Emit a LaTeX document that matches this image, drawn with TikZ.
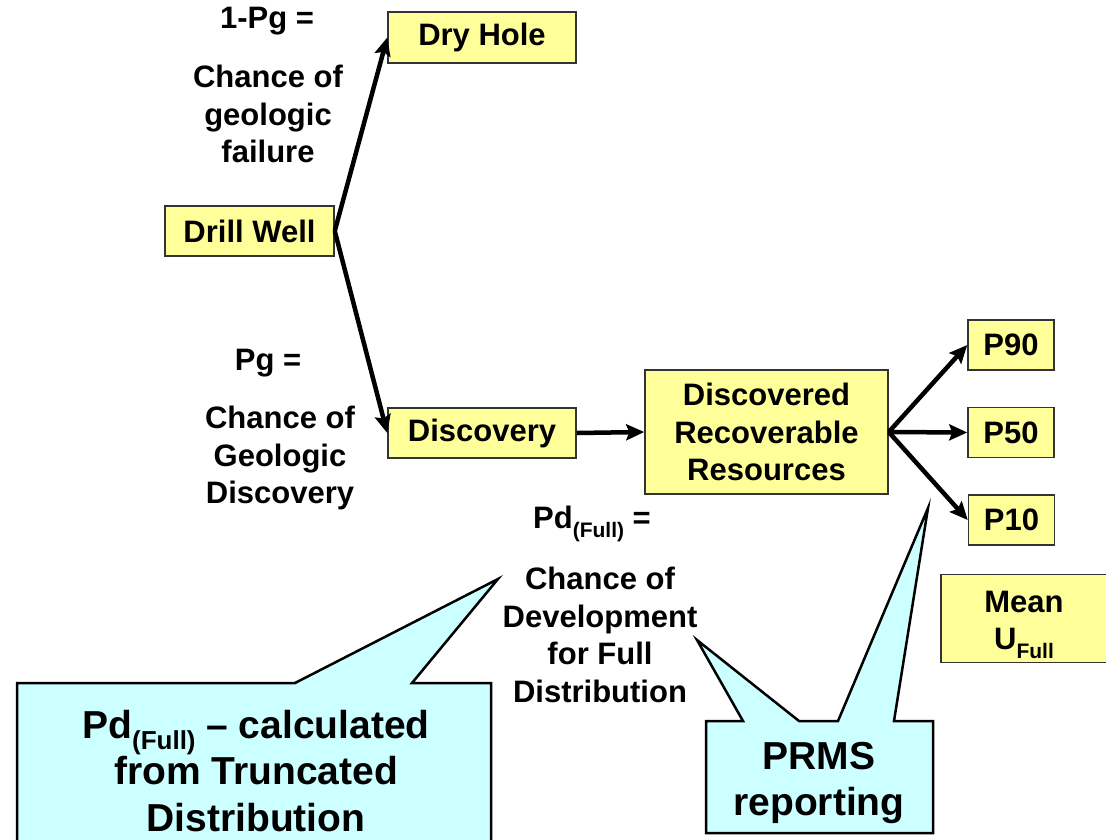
\documentclass[tikz,border=0pt]{standalone}
\usepackage{fontspec}
\setmainfont{Liberation Sans}
\usetikzlibrary{arrows.meta}
\definecolor{boxyellow}{HTML}{FFFF99}
\definecolor{calloutcyan}{HTML}{CCFFFF}
\definecolor{boxedge}{HTML}{333333}
\newcommand{\sbf}{\bfseries\fontsize{31}{37.5}\selectfont}
\newcommand{\lbf}{\bfseries\fontsize{39}{46.5}\selectfont}
\newcommand{\subtxt}[1]{\raisebox{-0.28em}{\fontsize{21}{21}\selectfont #1}}
\tikzset{
  ybox/.style={draw=boxedge, line width=1.5pt, fill=boxyellow, inner sep=0pt, align=center, font=\sbf},
  lbl/.style={inner sep=0pt, align=center, font=\sbf},
  clbl/.style={inner sep=0pt, align=center, font=\lbf},
  arr/.style={line width=4.5pt, -{Stealth[length=18pt, width=16pt, inset=3pt]}},
  callout/.style={draw=black, line width=2.5pt, fill=calloutcyan, line join=miter}
}
\begin{document}
\begin{tikzpicture}[x=1pt, y=-1pt]
\useasboundingbox (0,0) rectangle (1106,839);
\clip (0,0) rectangle (1106,839);
% boxes
\node[ybox, minimum width=188pt, minimum height=51pt] (dry) at (482,37.5) {Dry Hole};
\node[ybox, minimum width=169pt, minimum height=50pt] (dw) at (249.5,231) {Drill Well};
\node[ybox, minimum width=188pt, minimum height=50pt] (disc) at (482,433) {Discovery};
\node[ybox, minimum width=243pt, minimum height=124pt] (drr) at (766.5,432) {Discovered\\Recoverable\\Resources};
\node[ybox, minimum width=86pt, minimum height=50pt] (p90) at (1011,345) {P90};
\node[ybox, minimum width=86pt, minimum height=50pt] (p50) at (1011,432.5) {P50};
\node[ybox, minimum width=86pt, minimum height=50pt] (p10) at (1011.5,520) {P10};
\node[ybox, minimum width=166pt, minimum height=88pt] (mean) at (1024,618.5) {\rule{0pt}{34pt}Mean\\U\subtxt{Full}};
% labels
\node[lbl] (l1) at (267,21) {1-Pg =};
\node[lbl] (l2) at (268,114) {Chance of\\geologic\\failure};
\node[lbl] (l3) at (268,363) {Pg =};
\node[lbl] (l4) at (280,458) {Chance of\\Geologic\\Discovery};
\node[lbl] (l5) at (592,524) {Pd\subtxt{(Full)} =};
\node[lbl] (l6) at (600,635) {Chance of\\Development\\for Full\\Distribution};
% arrows
\draw[arr] (dw.east) -- (dry.west);
\draw[arr] (dw.east) -- (disc.west);
\draw[arr] (disc.east) -- (drr.west);
\draw[arr] (drr.east) -- (p90.west);
\draw[arr] (drr.east) -- (p50.west);
\draw[arr] (drr.east) -- (p10.west);
% callouts
\draw[callout] (17,683) -- (295,683) -- (498,579) -- (412,683) -- (491,683) -- (491,860) -- (17,860) -- cycle;
\draw[callout] (706,721) -- (743,721) -- (697,640) -- (799,721) -- (838,721) -- (928,508) -- (894,721) -- (933,721) -- (933,833) -- (706,833) -- cycle;
\node[clbl] (c1) at (256,771) {Pd\subtxt{\fontsize{26}{26}\selectfont(Full)} – calculated\\from Truncated\\Distribution};
\node[clbl] (c2) at (819,783) {PRMS\\reporting};
\end{tikzpicture}
\end{document}
